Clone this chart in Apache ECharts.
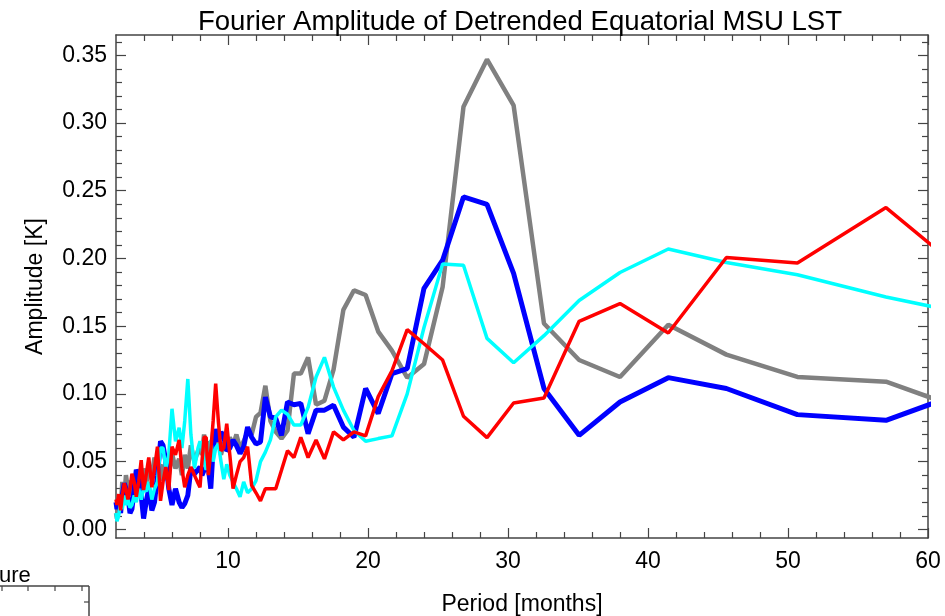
<!DOCTYPE html>
<html>
<head>
<meta charset="utf-8">
<script src="https://cdn.jsdelivr.net/npm/echarts@6/dist/echarts.min.js"></script>
<style>
  html, body { margin: 0; padding: 0; background: #ffffff; }
  #chart { width: 945px; height: 616px; }
</style>
</head>
<body>
<div id="chart"></div>
<script>
  // periods of the Fourier components [months], long periods first
  const periods = [
    65.14, 57.00, 50.67, 45.60, 41.45, 38.00, 35.08, 32.57, 30.40, 28.50,
    26.82, 25.33, 24.00, 22.80, 21.71, 20.73, 19.83, 19.00, 18.24, 17.54,
    16.89, 16.29, 15.72, 15.20, 14.71, 14.25, 13.82, 13.41, 13.03, 12.67,
    12.32, 12.00, 11.69, 11.40, 11.12, 10.86, 10.60, 10.36, 10.13, 9.91,
    9.70, 9.50, 9.31, 9.12, 8.94, 8.77, 8.60, 8.44, 8.29, 8.14,
    8.00, 7.86, 7.60, 7.35, 7.13, 6.91, 6.71, 6.51, 6.25, 6.00,
    5.77, 5.56, 5.36, 5.18, 4.96, 4.75, 4.56, 4.34, 4.15, 3.97,
    3.80, 3.62, 3.45, 3.30, 3.14, 3.00, 2.85, 2.71, 2.59, 2.45,
    2.33, 2.19, 2.07, 2.00
  ];

  const grayAmp = [
    0.079, 0.109, 0.1125, 0.129, 0.151, 0.1125, 0.125, 0.152, 0.313, 0.347,
    0.312, 0.179, 0.122, 0.112, 0.132, 0.146, 0.173, 0.1765, 0.162, 0.118,
    0.095, 0.092, 0.127, 0.115, 0.115, 0.073, 0.067, 0.072, 0.080, 0.106,
    0.086, 0.083, 0.070, 0.072, 0.065, 0.060, 0.070, 0.062, 0.068, 0.058,
    0.064, 0.055, 0.070, 0.060, 0.072, 0.052, 0.065, 0.050, 0.070, 0.055,
    0.060, 0.058, 0.050, 0.062, 0.045, 0.055, 0.040, 0.052, 0.045, 0.056,
    0.040, 0.050, 0.036, 0.048, 0.042, 0.053, 0.040, 0.046, 0.033, 0.045,
    0.030, 0.042, 0.028, 0.040, 0.025, 0.036, 0.030, 0.040, 0.022, 0.035,
    0.015, 0.025, 0.008, 0.012
  ];

  const blueAmp = [
    0.111, 0.0805, 0.0847, 0.104, 0.112, 0.094, 0.0694, 0.104, 0.189, 0.240,
    0.2454, 0.1987, 0.178, 0.1187, 0.115, 0.0855, 0.104, 0.068, 0.0755, 0.0916,
    0.088, 0.088, 0.0707, 0.093, 0.092, 0.094, 0.0694, 0.082, 0.083, 0.0977,
    0.0645, 0.063, 0.068, 0.0755, 0.061, 0.056, 0.062, 0.066, 0.060, 0.058,
    0.068, 0.072, 0.065, 0.074, 0.060, 0.030, 0.045, 0.046, 0.0436, 0.040,
    0.046, 0.046, 0.041, 0.045, 0.025, 0.019, 0.016, 0.020, 0.030, 0.018,
    0.030, 0.050, 0.062, 0.065, 0.040, 0.020, 0.014, 0.030, 0.020, 0.008,
    0.025, 0.040, 0.044, 0.030, 0.015, 0.012, 0.025, 0.030, 0.034, 0.025,
    0.012, 0.022, 0.015, 0.020
  ];

  const cyanAmp = [
    0.154, 0.1716, 0.188, 0.197, 0.207, 0.1896, 0.169, 0.143, 0.123, 0.141,
    0.195, 0.196, 0.149, 0.100, 0.069, 0.067, 0.065, 0.073, 0.088, 0.105,
    0.127, 0.1125, 0.090, 0.077, 0.077, 0.085, 0.088, 0.083, 0.066, 0.057,
    0.050, 0.036, 0.030, 0.027, 0.035, 0.024, 0.030, 0.035, 0.040, 0.048,
    0.037, 0.050, 0.063, 0.060, 0.050, 0.066, 0.050, 0.044, 0.050, 0.060,
    0.065, 0.060, 0.045, 0.070, 0.111, 0.080, 0.060, 0.075, 0.065, 0.089,
    0.055, 0.045, 0.060, 0.060, 0.035, 0.030, 0.022, 0.035, 0.028, 0.030,
    0.022, 0.030, 0.020, 0.025, 0.018, 0.016, 0.022, 0.018, 0.025, 0.015,
    0.020, 0.010, 0.006, 0.012
  ];

  const redAmp = [
    0.168, 0.2376, 0.1967, 0.2007, 0.145, 0.1667, 0.1536, 0.097, 0.0933, 0.0677,
    0.0835, 0.125, 0.137, 0.1475, 0.117, 0.098, 0.069, 0.072, 0.066, 0.072,
    0.052, 0.066, 0.053, 0.068, 0.053, 0.058, 0.0436, 0.030, 0.030, 0.030,
    0.021, 0.027, 0.0325, 0.061, 0.053, 0.050, 0.040, 0.030, 0.055, 0.078,
    0.060, 0.058, 0.080, 0.1076, 0.080, 0.058, 0.040, 0.068, 0.068, 0.050,
    0.031, 0.034, 0.040, 0.046, 0.040, 0.031, 0.045, 0.066, 0.055, 0.061,
    0.029, 0.046, 0.035, 0.021, 0.061, 0.045, 0.031, 0.053, 0.040, 0.029,
    0.051, 0.035, 0.024, 0.035, 0.041, 0.030, 0.022, 0.030, 0.034, 0.025,
    0.014, 0.026, 0.018, 0.022
  ];

  const xMajorTicks = [10, 20, 30, 40, 50, 60];
  const xMinorTicks = [4, 6, 8, 12, 14, 16, 18, 22, 24, 26, 28, 32, 34, 36, 38,
    42, 44, 46, 48, 52, 54, 56, 58];
  const yMajorTicks = [0, 0.05, 0.10, 0.15, 0.20, 0.25, 0.30, 0.35];
  const yMinorTicks = [0.01, 0.02, 0.03, 0.04, 0.06, 0.07, 0.08, 0.09,
    0.11, 0.12, 0.13, 0.14, 0.16, 0.17, 0.18, 0.19, 0.21, 0.22, 0.23, 0.24,
    0.26, 0.27, 0.28, 0.29, 0.31, 0.32, 0.33, 0.34, 0.36];

  const font = 'Liberation Sans, Arial, Helvetica, sans-serif';
  const axisColor = '#444444';

  const pair = (vals) => periods.map((p, i) => [p, vals[i]]);

  const xAxisPart = (position, ticks, len, showLine, showLabel) => ({
    type: 'value',
    position: position,
    min: 2,
    max: 60,
    axisLine: { show: showLine, onZero: false, lineStyle: { color: axisColor, width: 1.5 } },
    axisTick: { show: true, inside: true, length: len, customValues: ticks,
      lineStyle: { color: axisColor, width: 1.2 } },
    axisLabel: { show: showLabel, customValues: ticks, fontSize: 23, color: '#000',
      fontFamily: font, margin: 12 },
    splitLine: { show: false }
  });

  const yAxisPart = (position, ticks, len, showLine, showLabel) => ({
    type: 'value',
    position: position,
    min: -0.0064,
    max: 0.365,
    axisLine: { show: showLine, onZero: false, lineStyle: { color: axisColor, width: 1.5 } },
    axisTick: { show: true, inside: true, length: len, customValues: ticks,
      lineStyle: { color: axisColor, width: 1.2 } },
    axisLabel: { show: showLabel, customValues: ticks, fontSize: 23, color: '#000',
      fontFamily: font, margin: 9, formatter: (v) => v.toFixed(2) },
    splitLine: { show: false }
  });

  const xBottom = xAxisPart('bottom', xMajorTicks, 10, true, true);
  xBottom.name = 'Period [months]';
  xBottom.nameLocation = 'middle';
  xBottom.nameGap = 55;
  xBottom.nameTextStyle = { fontSize: 23, color: '#000', fontFamily: font };

  const yLeft = yAxisPart('left', yMajorTicks, 10, true, true);
  yLeft.name = 'Amplitude [K]';
  yLeft.nameLocation = 'middle';
  yLeft.nameGap = 69;
  yLeft.nameTextStyle = { fontSize: 23, color: '#000', fontFamily: font };

  const chart = echarts.init(document.getElementById('chart'));

  const option = {
    animation: false,
    backgroundColor: '#ffffff',
    title: {
      text: 'Fourier Amplitude of Detrended Equatorial MSU LST',
      left: 515,
      textAlign: 'center',
      top: 3,
      textStyle: { fontSize: 27.6, fontWeight: 'normal', color: '#000', fontFamily: font }
    },
    grid: { left: 116, right: 17, top: 35, bottom: 78, outerBoundsMode: 'none', containLabel: false },
    xAxis: [
      xBottom,
      xAxisPart('bottom', xMinorTicks, 6, false, false),
      xAxisPart('top', xMajorTicks, 10, true, false),
      xAxisPart('top', xMinorTicks, 6, false, false)
    ],
    yAxis: [
      yLeft,
      yAxisPart('left', yMinorTicks, 6, false, false),
      yAxisPart('right', yMajorTicks, 10, true, false),
      yAxisPart('right', yMinorTicks, 6, false, false)
    ],
    series: [
      { name: 'gray', type: 'line', data: pair(grayAmp), showSymbol: false,
        lineStyle: { color: '#808080', width: 4.5 }, itemStyle: { color: '#808080' } },
      { name: 'blue', type: 'line', data: pair(blueAmp), showSymbol: false,
        lineStyle: { color: '#0000ff', width: 5 }, itemStyle: { color: '#0000ff' } },
      { name: 'cyan', type: 'line', data: pair(cyanAmp), showSymbol: false,
        lineStyle: { color: '#00ffff', width: 3.5 }, itemStyle: { color: '#00ffff' } },
      { name: 'red', type: 'line', data: pair(redAmp), showSymbol: false,
        lineStyle: { color: '#ff0000', width: 3.5 }, itemStyle: { color: '#ff0000' } }
    ],
    // piece of a neighbouring panel cut off at the lower left
    graphic: [
      { type: 'text', x: -1, y: 565, style: { text: 'ure', fontSize: 22, fontFamily: font, fill: '#000' } },
      { type: 'line', shape: { x1: 0, y1: 586, x2: 89, y2: 586 }, style: { stroke: axisColor, lineWidth: 1.5 } },
      { type: 'line', shape: { x1: 89, y1: 586, x2: 89, y2: 616 }, style: { stroke: axisColor, lineWidth: 1.5 } },
      { type: 'line', shape: { x1: 2, y1: 586, x2: 2, y2: 591 }, style: { stroke: axisColor, lineWidth: 1.2 } },
      { type: 'line', shape: { x1: 28, y1: 586, x2: 28, y2: 591 }, style: { stroke: axisColor, lineWidth: 1.2 } },
      { type: 'line', shape: { x1: 55, y1: 586, x2: 55, y2: 591 }, style: { stroke: axisColor, lineWidth: 1.2 } },
      { type: 'line', shape: { x1: 82, y1: 586, x2: 82, y2: 591 }, style: { stroke: axisColor, lineWidth: 1.2 } },
      { type: 'line', shape: { x1: 84, y1: 602, x2: 89, y2: 602 }, style: { stroke: axisColor, lineWidth: 1.2 } }
    ]
  };

  chart.setOption(option);
</script>
</body>
</html>
